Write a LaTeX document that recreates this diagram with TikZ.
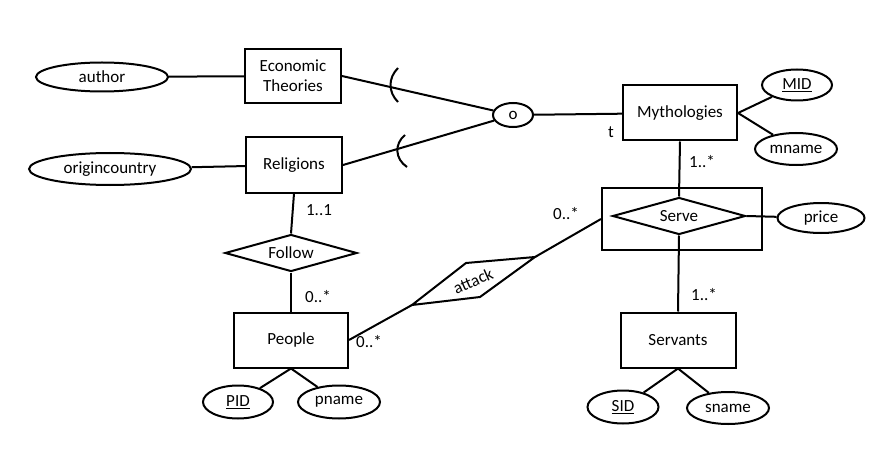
\documentclass[tikz,border=0pt]{standalone}
\usepackage{fontspec}
\setmainfont{Carlito}
\usetikzlibrary{shapes.geometric}
\begin{document}
\begin{tikzpicture}[x=1pt,y=-1pt,
  every node/.style={font=\fontsize{17}{19}\selectfont},
  ln/.style={line width=2pt},
  entity/.style={draw,line width=2pt,rectangle,inner sep=0pt,align=center},
  attr/.style={draw,line width=2pt,ellipse,inner sep=0pt},
  rel/.style={draw,line width=2pt,diamond,aspect=3,inner sep=0pt},
  card/.style={inner sep=0pt,font=\fontsize{17}{19}\selectfont}]
\useasboundingbox (0,0) rectangle (882,449);
% entities
\node[entity,minimum width=96pt,minimum height=54pt] (econ) at (293,76) {Economic\\[1pt]Theories};
\node[entity,minimum width=96pt,minimum height=55pt] (rel) at (294,165) {Religions};
\node[entity,minimum width=114pt,minimum height=55pt] (myth) at (680,113) {Mythologies};
\node[entity,minimum width=114pt,minimum height=55pt] (people) at (291,340) {People};
\node[entity,minimum width=115pt,minimum height=55pt] (serv) at (678,340) {Servants};
\node[entity,minimum width=160pt,minimum height=62pt] (servebox) at (682,219) {};
% attributes
\node[attr,minimum width=132pt,minimum height=29pt] (author) at (102,77) {author};
\node[attr,minimum width=162pt,minimum height=32pt] (origin) at (110,169) {origincountry};
\node[attr,minimum width=70pt,minimum height=31pt] (mid) at (797,85) {\underline{MID}};
\node[attr,minimum width=82pt,minimum height=32pt] (mname) at (796,149) {mname};
\node[attr,minimum width=87pt,minimum height=30pt] (price) at (821,218) {price};
\node[attr,minimum width=71pt,minimum height=33pt] (sid) at (623,407) {\underline{SID}};
\node[attr,minimum width=82pt,minimum height=32pt] (sname) at (728,408) {sname};
\node[attr,minimum width=70pt,minimum height=33pt] (pid) at (238,402) {\underline{PID}};
\node[attr,minimum width=82pt,minimum height=33pt] (pname) at (339,402) {pname};
% specialization circle
\node[attr,minimum width=40pt,minimum height=24pt] (o) at (513,115) {o};
% relationships
\node[rel,minimum width=133pt,minimum height=37pt] (serve) at (679,216) {Serve};
\node[rel,minimum width=132pt,minimum height=37pt] (follow) at (291,253) {Follow};
\coordinate (aL) at (412,305);
\coordinate (aT) at (466,263);
\coordinate (aR) at (535,257);
\coordinate (aB) at (480,297);
\draw[ln,line join=miter] (aL) -- (aT) -- (aR) -- (aB) -- cycle;
\node[rotate=24,inner sep=0pt] (attack) at (473,281) {attack};
% connectors
\draw[ln] (author) -- (econ);
\draw[ln] (origin) -- (rel);
\draw[ln] (econ.east) -- (o);
\draw[ln] (rel.east) -- (o);
\draw[ln] (o) -- (myth);
\draw[ln] (myth.east) -- (mid);
\draw[ln] (myth.east) -- (mname);
\draw[ln] (myth.south) -- (serve.north);
\draw[ln] (serve.east) -- (price);
\draw[ln] (serve.south) -- (serv.north);
\draw[ln] (serv.south) -- (sid);
\draw[ln] (serv.south) -- (sname);
\draw[ln] (rel.south) -- (follow.north);
\draw[ln] (follow.south) -- (people.north);
\draw[ln] (people.south) -- (pid);
\draw[ln] (people.south) -- (pname);
\draw[ln] (people.east) -- (aL);
\draw[ln] (aR) -- (servebox.west);
% subset arcs
\draw[ln] (398,68) .. controls (388,78) and (388,92) .. (398,102);
\draw[ln] (405,135) .. controls (394,144) and (395,159) .. (407,167);
% labels
\node[card] (t) at (611,132) {t};
\node[card] (c1) at (702,162) {1..*};
\node[card] (c2) at (566,214) {0..*};
\node[card] (c3) at (704,295) {1..*};
\node[card] (c4) at (319,210) {1..1};
\node[card] (c5) at (318,297) {0..*};
\node[card] (c6) at (369,342) {0..*};
\end{tikzpicture}
\end{document}
